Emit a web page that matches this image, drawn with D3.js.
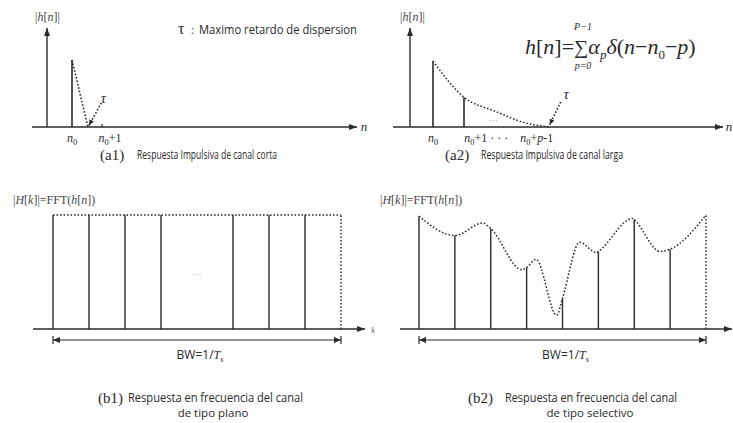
<!DOCTYPE html>
<html><head><meta charset="utf-8">
<script src="https://cdn.jsdelivr.net/npm/d3@7"></script>
<style>body{margin:0;background:#fff} svg{display:block}</style>
</head><body><svg id="c" width="733" height="423"></svg>
<script>
// ---------------- data ----------------
// (a1) short channel: offsets from n0, amplitudes
const a1StemN = [0];
const a1StemAmp = [1];
const a1TailN = [0, 0.53];
const a1TailAmp = [1, 0];
const a1TickN = [1];
// (a2) long channel
const a2StemN = [0, 1];
const a2StemAmp = [1, 0.45];
const a2DecayN = [0, 1, 2, 3, 3.75];
const a2DecayAmp = [1, 0.45, 0.24, 0.06, 0];
// (b1) flat frequency response
const b1StemK = [0, 1, 2, 3, 5, 6, 7];
const b1StemAmp = [1, 1, 1, 1, 1, 1, 1];
const b1EdgeK = [8];
const b1EdgeAmp = [1];
// (b2) selective frequency response
const b2StemK = [0, 1, 2, 3, 4, 5, 6, 7];
const b2StemAmp = [0.99, 0.82, 0.88, 0.54, 0.27, 0.68, 0.96, 0.70];
const b2EdgeK = [8];
const b2EdgeAmp = [1.0];
const b2EnvK = [0, 1, 1.78, 2, 2.87, 3, 3.26, 3.84, 4, 4.48, 4.95, 5, 5.96, 6, 6.72, 7, 8];
const b2EnvAmp = [0.99, 0.82, 0.93, 0.88, 0.52, 0.54, 0.61, 0.12, 0.27, 0.76, 0.67, 0.68, 0.97, 0.96, 0.68, 0.70, 1.0];

const captions = {
  a1: ["(a1)", "Respuesta Impulsiva de canal corta"],
  a2: ["(a2)", "Respuesta Impulsiva de canal larga"],
  b1: ["(b1)", "Respuesta en frecuencia del canal", "de tipo plano"],
  b2: ["(b2)", "Respuesta en frecuencia del canal", "de tipo selectivo"]
};

// ---------------- drawing ----------------
const svg = d3.select("#c");
svg.append("rect").attr("width", 733).attr("height", 423).attr("fill", "#fff");
const INK = "#2a2a2a";
const SERIF = "'Liberation Serif','DejaVu Serif',serif";
const SANS = "'Open Sans','Noto Sans',sans-serif";
const DOT = "1.6,1.9";

const defs = svg.append("defs");
function marker(id, w, h, orient) {
  defs.append("marker").attr("id", id).attr("viewBox", `0 0 ${w} ${h}`)
    .attr("refX", w).attr("refY", h / 2).attr("markerWidth", w).attr("markerHeight", h)
    .attr("markerUnits", "userSpaceOnUse").attr("orient", orient)
    .append("path").attr("d", `M0,0L${w},${h/2}L0,${h}Z`).attr("fill", INK);
}
marker("ax", 8, 6, "auto");
marker("sm", 6, 5, "auto");
marker("bwE", 7, 6, "auto");
marker("bwS", 7, 6, "auto-start-reverse");

function line(g, x1, y1, x2, y2, opts = {}) {
  const l = g.append("line").attr("x1", x1).attr("y1", y1).attr("x2", x2).attr("y2", y2)
    .attr("stroke", INK).attr("stroke-width", opts.w || 1.4);
  if (opts.dash) l.attr("stroke-dasharray", opts.dash);
  if (opts.end) l.attr("marker-end", `url(#${opts.end})`);
  if (opts.start) l.attr("marker-start", `url(#${opts.start})`);
  return l;
}

function nLabel(g, x, y, parts, size) {
  const t = g.append("text").attr("x", x).attr("y", y).attr("text-anchor", "middle")
    .attr("font-family", SERIF).attr("font-size", size).attr("fill", INK);
  parts.forEach(([s, st]) => {
    const ts = t.append("tspan").text(s);
    if (st === "i") ts.attr("font-style", "italic");
    if (st === "sub") ts.attr("font-size", size * 0.7).attr("dy", 3);
    if (st === "up") ts.attr("dy", -3);
  });
  return t;
}

function caption(g, cx0, y, key, textStart, textEnd, line2Center) {
  const c = captions[key];
  g.append("text").attr("x", cx0).attr("y", y).attr("font-family", SERIF)
    .attr("font-size", 15).attr("fill", INK).text(c[0]);
  g.append("text").attr("x", textStart).attr("y", y - 1).attr("font-family", SANS)
    .attr("font-size", 12.5).attr("fill", INK)
    .attr("textLength", textEnd - textStart).attr("lengthAdjust", "spacingAndGlyphs").text(c[1]);
  if (c[2]) {
    g.append("text").attr("x", line2Center).attr("y", y + 14).attr("text-anchor", "middle")
      .attr("font-family", SANS).attr("font-size", 11.5).attr("fill", INK).text(c[2]);
  }
}

function hLabel(g, x, y) {
  const t = g.append("text").attr("x", x).attr("y", y).attr("font-family", SERIF)
    .attr("font-size", 12).attr("fill", "#444");
  t.append("tspan").text("|");
  t.append("tspan").attr("font-style", "italic").text("h");
  t.append("tspan").text("[");
  t.append("tspan").attr("font-style", "italic").text("n");
  t.append("tspan").text("]|");
}
function HLabel(g, x, y) {
  const t = g.append("text").attr("x", x).attr("y", y).attr("font-family", SERIF)
    .attr("font-size", 12).attr("fill", "#444");
  t.append("tspan").text("|");
  t.append("tspan").attr("font-style", "italic").text("H");
  t.append("tspan").text("[");
  t.append("tspan").attr("font-style", "italic").text("k");
  t.append("tspan").text("]|=FFT(");
  t.append("tspan").attr("font-style", "italic").text("h");
  t.append("tspan").text("[");
  t.append("tspan").attr("font-style", "italic").text("n");
  t.append("tspan").text("])");
}

const dline = (xs, ys) => d3.line().x(d => xs(d[0])).y(d => ys(d[1]));

// ===== (a1) =====
{
  const g = svg.append("g");
  const x = d3.scaleLinear().domain([0, 1]).range([72, 102]);
  const y = d3.scaleLinear().domain([0, 1]).range([127, 60]);
  line(g, 32, y(0), 357, y(0), { end: "ax" });
  line(g, 47, y(0), 47, 28, { end: "ax" });
  hLabel(g, 35, 21);
  nLabel(g, 364, 131, [["n", "i"]], 13);
  a1StemN.forEach((n, i) => line(g, x(n), y(0), x(n), y(a1StemAmp[i]), { w: 1.6 }));
  g.append("path").attr("d", dline(x, y)(a1TailN.map((n, i) => [n, a1TailAmp[i]])))
    .attr("fill", "none").attr("stroke", INK).attr("stroke-width", 1.6).attr("stroke-dasharray", DOT);
  a1TickN.forEach(n => line(g, x(n), y(0) - 3, x(n), y(0), { w: 1.2 }));
  line(g, x(0.98), y(0.36), x(0.56), y(0.02), { w: 1.6, dash: DOT, end: "sm" });
  g.append("text").attr("x", x(1.05)).attr("y", y(0.36)).attr("font-family", SERIF)
    .attr("font-style", "italic").attr("font-size", 15).attr("fill", INK).attr("text-anchor", "middle").text("τ");
  nLabel(g, x(0), 142, [["n", "i"], ["0", "sub"]], 12);
  nLabel(g, x(1.27), 142, [["n", "i"], ["0", "sub"], ["+1", "up"]], 12);
  g.append("text").attr("x", 178).attr("y", 34).attr("font-family", SERIF).attr("font-size", 16)
    .attr("fill", INK).text("τ");
  g.append("text").attr("x", 191).attr("y", 34).attr("font-family", SANS).attr("font-size", 11)
    .attr("fill", INK).text(":");
  g.append("text").attr("x", 199).attr("y", 34).attr("font-family", SANS).attr("font-size", 12)
    .attr("fill", INK).attr("textLength", 158).attr("lengthAdjust", "spacingAndGlyphs")
    .text("Maximo retardo de dispersion");
  caption(g, 100, 160, "a1", 137, 277);
}

// ===== (a2) =====
{
  const g = svg.append("g");
  const x = d3.scaleLinear().domain([0, 1]).range([433, 464]);
  const y = d3.scaleLinear().domain([0, 1]).range([127, 61]);
  line(g, 393, y(0), 723, y(0), { end: "ax" });
  line(g, 410, y(0), 410, 28, { end: "ax" });
  hLabel(g, 400, 21);
  nLabel(g, 729, 131, [["n", "i"]], 13);
  a2StemN.forEach((n, i) => line(g, x(n), y(0), x(n), y(a2StemAmp[i]), { w: 1.6 }));
  g.append("path").attr("d", dline(x, y).curve(d3.curveMonotoneX)(a2DecayN.map((n, i) => [n, a2DecayAmp[i]])))
    .attr("fill", "none").attr("stroke", INK).attr("stroke-width", 1.5).attr("stroke-dasharray", DOT);
  g.append("text").attr("x", x(1.95)).attr("y", y(0.04)).attr("text-anchor", "middle")
    .attr("font-family", SANS).attr("font-size", 11).attr("fill", "#bbb").text("···");
  line(g, x(4.12), y(0.38), x(3.76), y(0.03), { w: 1.6, dash: DOT, end: "sm" });
  g.append("text").attr("x", x(4.3)).attr("y", y(0.42)).attr("font-family", SERIF)
    .attr("font-style", "italic").attr("font-size", 15).attr("fill", INK).attr("text-anchor", "middle").text("τ");
  nLabel(g, x(0), 142, [["n", "i"], ["0", "sub"]], 12);
  nLabel(g, x(1.72), 142, [["n", "i"], ["0", "sub"], ["+1 · · ·", "up"]], 12);
  nLabel(g, x(3.35), 142, [["n", "i"], ["0", "sub"], ["+", "up"], ["p", "i"], ["-1", "n"]], 12);
  // formula
  const f = g.append("text").attr("x", 525).attr("y", 54).attr("font-family", SERIF)
    .attr("font-size", 22).attr("fill", INK);
  f.append("tspan").attr("font-style", "italic").text("h");
  f.append("tspan").text("[");
  f.append("tspan").attr("font-style", "italic").text("n");
  f.append("tspan").text("]=");
  f.append("tspan").attr("font-size", 20).text("∑");
  f.append("tspan").attr("font-style", "italic").text("α");
  f.append("tspan").attr("font-style", "italic").attr("font-size", 13).attr("dy", 5).text("p");
  f.append("tspan").attr("font-style", "italic").attr("dy", -5).text("δ");
  f.append("tspan").text("(");
  f.append("tspan").attr("font-style", "italic").text("n");
  f.append("tspan").text("−");
  f.append("tspan").attr("font-style", "italic").text("n");
  f.append("tspan").attr("font-size", 13).attr("dy", 5).text("0");
  f.append("tspan").attr("dy", -5).text("−");
  f.append("tspan").attr("font-style", "italic").text("p");
  f.append("tspan").text(")");
  g.append("text").attr("x", 583).attr("y", 30).attr("text-anchor", "middle").attr("font-family", SERIF)
    .attr("font-style", "italic").attr("font-size", 10).attr("fill", INK).text("P−1");
  g.append("text").attr("x", 583).attr("y", 69).attr("text-anchor", "middle").attr("font-family", SERIF)
    .attr("font-style", "italic").attr("font-size", 10).attr("fill", INK).text("p=0");
  caption(g, 445, 160, "a2", 481, 623);
}

// ===== (b1) =====
{
  const g = svg.append("g");
  const x = d3.scaleLinear().domain([0, 8]).range([53, 341]);
  const y = d3.scaleLinear().domain([0, 1]).range([329, 215]);
  line(g, 33, y(0), 365, y(0), { end: "ax" });
  HLabel(g, 13, 204);
  b1StemK.forEach((k, i) => line(g, x(k), y(0), x(k), y(b1StemAmp[i]), { w: 1.4 }));
  b1EdgeK.forEach((k, i) => line(g, x(k), y(0), x(k), y(b1EdgeAmp[i]), { w: 1.5, dash: DOT }));
  line(g, x(0), y(1), x(8), y(1), { w: 1.5, dash: DOT });
  g.append("text").attr("x", x(4)).attr("y", y(0.45)).attr("text-anchor", "middle")
    .attr("font-family", SANS).attr("font-size", 11).attr("fill", "#bbb").text("···");
  g.append("text").attr("x", 373).attr("y", 333).attr("text-anchor", "middle").attr("font-family", SERIF)
    .attr("font-style", "italic").attr("font-size", 8).attr("fill", "#555").text("k");
  line(g, x(0), 340, x(8), 340, { w: 1.1, end: "bwE", start: "bwS" });
  line(g, x(0), 336, x(0), 344, { w: 1.2 });
  line(g, x(8), 336, x(8), 344, { w: 1.2 });
  const bw = g.append("text").attr("x", (x(0) + x(8)) / 2 + 3).attr("y", 359).attr("text-anchor", "middle")
    .attr("font-family", SANS).attr("font-size", 12).attr("fill", INK);
  bw.append("tspan").text("BW=1/");
  bw.append("tspan").attr("font-family", SERIF).attr("font-style", "italic").text("T");
  bw.append("tspan").attr("font-family", SERIF).attr("font-style", "italic").attr("font-size", 8).attr("dy", 3).text("s");
  caption(g, 98, 403, "b1", 128, 303, 213);
}

// ===== (b2) =====
{
  const g = svg.append("g");
  const x = d3.scaleLinear().domain([0, 8]).range([419, 706]);
  const y = d3.scaleLinear().domain([0, 1]).range([329, 215]);
  line(g, 400, y(0), 732, y(0), { end: "ax" });
  HLabel(g, 380, 204);
  g.append("path").attr("d", dline(x, y).curve(d3.curveMonotoneX)(b2EnvK.map((k, i) => [k, b2EnvAmp[i]])))
    .attr("fill", "none").attr("stroke", INK).attr("stroke-width", 1.5).attr("stroke-dasharray", DOT);
  b2StemK.forEach((k, i) => line(g, x(k), y(0), x(k), y(b2StemAmp[i]), { w: 1.4 }));
  b2EdgeK.forEach((k, i) => line(g, x(k), y(0), x(k), y(b2EdgeAmp[i]), { w: 1.5, dash: DOT }));
  line(g, x(0), 340, x(8), 340, { w: 1.1, end: "bwE", start: "bwS" });
  line(g, x(0), 336, x(0), 344, { w: 1.2 });
  line(g, x(8), 336, x(8), 344, { w: 1.2 });
  const bw = g.append("text").attr("x", (x(0) + x(8)) / 2 + 3).attr("y", 359).attr("text-anchor", "middle")
    .attr("font-family", SANS).attr("font-size", 12).attr("fill", INK);
  bw.append("tspan").text("BW=1/");
  bw.append("tspan").attr("font-family", SERIF).attr("font-style", "italic").text("T");
  bw.append("tspan").attr("font-family", SERIF).attr("font-style", "italic").attr("font-size", 8).attr("dy", 3).text("s");
  caption(g, 468, 403, "b2", 505, 677, 590);
}
</script></body></html>
